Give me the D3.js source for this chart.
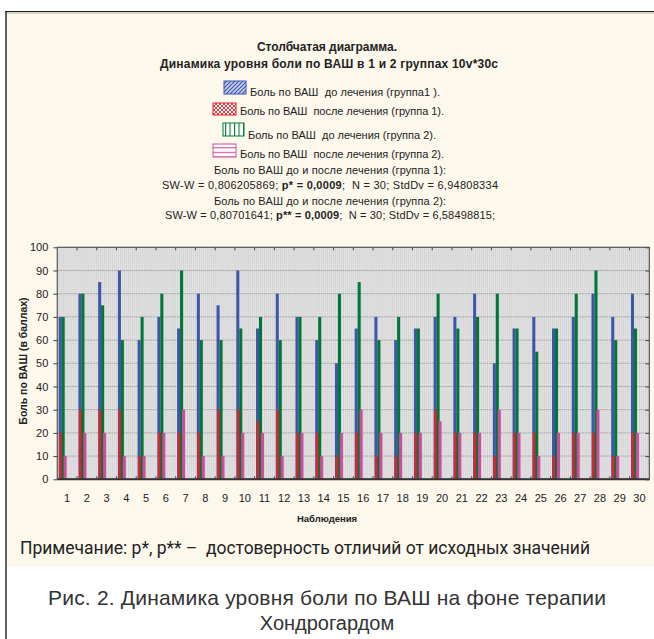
<!DOCTYPE html>
<html>
<head>
<meta charset="utf-8">
<script src="https://cdn.jsdelivr.net/npm/d3@7"></script>
<style>
  body { margin: 0; background: #fff; }
  svg { display: block; font-family: "Liberation Sans", Arial, sans-serif; }
</style>
</head>
<body>
<div id="chart"></div>
<script>
// ---------------------------------
// Data
// ---------------------------------
const observations = ["1","2","3","4","5","6","7","8","9","10","11","12","13","14","15",
                      "16","17","18","19","20","21","22","23","24","25","26","27","28","29","30"];
const group1Before = [70,80,85,90,60,70,65,80,75,90,65,80,70,60,50,65,70,60,65,70,70,80,50,65,70,65,70,80,70,80];
const group1After  = [20,30,30,30,10,20,20,20,30,30,25,30,20,20,10,20,10,10,20,30,20,20,10,20,20,10,20,20,10,20];
const group2Before = [70,80,75,60,70,80,90,60,60,65,70,60,70,70,80,85,60,70,65,80,65,70,80,65,55,65,80,90,60,65];
const group2After  = [10,20,20,10,10,20,30,10,10,20,20,10,20,10,20,30,20,20,20,25,20,20,30,20,10,20,20,30,10,20];
const yTicks = [0,10,20,30,40,50,60,70,80,90,100];

const seriesNames = [
  "Боль по ВАШ  до лечения (группа1 ).",
  "Боль по ВАШ  после лечения (группа 1).",
  "Боль по ВАШ  до лечения (группа 2).",
  "Боль по ВАШ  после лечения (группа 2)."
];

const W = 654, H = 639;
const pLeft = 57.3, pRight = 649.3, pTop = 247.3, pBottom = 479.3;

const svg = d3.select("#chart").append("svg")
  .attr("width", W).attr("height", H);

// patterns for legend swatches
const defs = svg.append("defs");
function hatch(id, color, bg, draw) {
  const p = defs.append("pattern").attr("id", id)
    .attr("patternUnits", "userSpaceOnUse").attr("width", 4).attr("height", 4);
  p.append("rect").attr("width", 4).attr("height", 4).attr("fill", bg);
  draw(p, color);
}
hatch("pBlue", "#3d55b0", "#c9d2f0", (p, c) => {
  p.append("path").attr("d", "M-1,5 L5,-1 M-1,1 L1,-1 M3,5 L5,3").attr("stroke", c).attr("stroke-width", 1.2);
});
hatch("pRed", "#e8202a", "#fff", (p, c) => {
  p.append("path").attr("d", "M-1,5 L5,-1 M-1,-1 L5,5").attr("stroke", c).attr("stroke-width", 0.9);
});
defs.append("pattern").attr("id", "pGreen").attr("patternUnits", "userSpaceOnUse")
  .attr("width", 4.5).attr("height", 4)
  .call(p => {
    p.append("rect").attr("width", 4.5).attr("height", 4).attr("fill", "#fff");
    p.append("line").attr("x1", 0.5).attr("x2", 0.5).attr("y1", 0).attr("y2", 4)
      .attr("stroke", "#007a3d").attr("stroke-width", 1.2);
  });
defs.append("pattern").attr("id", "pPink").attr("patternUnits", "userSpaceOnUse")
  .attr("width", 4).attr("height", 4.6)
  .call(p => {
    p.append("rect").attr("width", 4).attr("height", 4.6).attr("fill", "#fff");
    p.append("line").attr("x1", 0).attr("x2", 4).attr("y1", 0.5).attr("y2", 0.5)
      .attr("stroke", "#d14fa0").attr("stroke-width", 1.2);
  });

// page background + frame
svg.append("rect").attr("width", W).attr("height", H).attr("fill", "#fff");
svg.append("rect").attr("x", 6).attr("y", 12).attr("width", W).attr("height", 555)
  .attr("fill", "#fdf8ec");
svg.append("line").attr("x1", 5).attr("x2", W).attr("y1", 11.5).attr("y2", 11.5)
  .attr("stroke", "#222").attr("stroke-width", 1.2);
svg.append("line").attr("x1", 6).attr("x2", W).attr("y1", 13).attr("y2", 13)
  .attr("stroke", "#999").attr("stroke-width", 0.8);
svg.append("line").attr("x1", 6).attr("x2", 6).attr("y1", 11).attr("y2", H)
  .attr("stroke", "#222").attr("stroke-width", 1.4);

// title
svg.append("text").attr("x", 327).attr("y", 51).attr("text-anchor", "middle")
  .attr("font-size", 12).attr("font-weight", "bold").attr("fill", "#222")
  .attr("textLength", 140).attr("lengthAdjust", "spacing")
  .text("Столбчатая диаграмма.");
svg.append("text").attr("x", 329).attr("y", 67.5).attr("text-anchor", "middle")
  .attr("font-size", 12).attr("font-weight", "bold").attr("fill", "#222")
  .attr("textLength", 338).attr("lengthAdjust", "spacing")
  .text("Динамика уровня боли по ВАШ в 1 и 2 группах 10v*30c");

// legend
const legend = [
  {name: seriesNames[0], fill: "url(#pBlue)", stroke: "#3d55b0", x: 224, y: 81, w: 22, h: 13, ty: 95.5, tw: 190},
  {name: seriesNames[1], fill: "url(#pRed)", stroke: "#e8202a", x: 213, y: 103, w: 23, h: 12, ty: 115, tw: 204},
  {name: seriesNames[2], fill: "url(#pGreen)", stroke: "#007a3d", x: 223, y: 123, w: 21, h: 13, ty: 139, tw: 188},
  {name: seriesNames[3], fill: "url(#pPink)", stroke: "#d14fa0", x: 213, y: 144, w: 23, h: 13, ty: 158, tw: 204}
];
const lg = svg.append("g").selectAll("g").data(legend).enter().append("g");
lg.append("rect")
  .attr("x", d => d.x).attr("y", d => d.y).attr("width", d => d.w).attr("height", d => d.h)
  .attr("fill", d => d.fill).attr("stroke", d => d.stroke).attr("stroke-width", 1);
lg.append("text")
  .attr("x", d => d.x + d.w + 4).attr("y", d => d.ty)
  .attr("font-size", 11).attr("fill", "#222")
  .attr("xml:space", "preserve")
  .attr("textLength", d => d.tw).attr("lengthAdjust", "spacing")
  .text(d => d.name);

// statistics text
function statLine(yy, width, parts) {
  const t = svg.append("text").attr("x", 330).attr("y", yy).attr("text-anchor", "middle")
    .attr("font-size", 11).attr("fill", "#222").attr("xml:space", "preserve")
    .attr("textLength", width).attr("lengthAdjust", "spacing");
  parts.forEach(p => t.append("tspan").attr("font-weight", p[1] ? "bold" : null).text(p[0]));
}
statLine(174, 232, [["Боль по ВАШ до и после лечения (группа 1):"]]);
statLine(189, 336, [["SW-W = 0,806205869; "], ["p* = 0,0009", true], [";  N = 30; StdDv = 6,94808334"]]);
statLine(205, 232, [["Боль по ВАШ до и после лечения (группа 2):"]]);
statLine(219, 330, [["SW-W = 0,80701641; "], ["p** = 0,0009", true], [";  N = 30; StdDv = 6,58498815;"]]);

// scales
const x = d3.scaleBand().domain(observations).range([pLeft, pRight]).padding(0);
const y = d3.scaleLinear().domain([0, 100]).range([pBottom, pTop]);
const bw = x.bandwidth();

// plot background + grid
const plot = svg.append("g");
plot.append("rect").attr("x", pLeft).attr("y", pTop).attr("width", pRight - pLeft).attr("height", pBottom - pTop)
  .attr("fill", "#e4e4e4");
const vgrid = d3.range(pLeft + 2, pRight, bw / 10);
plot.append("g").selectAll("line").data(vgrid).enter().append("line")
  .attr("x1", d => d).attr("x2", d => d).attr("y1", pTop).attr("y2", pBottom)
  .attr("stroke", "#bdbdbd").attr("stroke-width", 0.8).attr("stroke-dasharray", "1,1");
plot.append("g").selectAll("line").data(yTicks.slice(1, -1)).enter().append("line")
  .attr("x1", pLeft).attr("x2", pRight).attr("y1", d => y(d)).attr("y2", d => y(d))
  .attr("stroke", "#959595").attr("stroke-width", 0.8).attr("stroke-dasharray", "2,1");

// bars
const barW = bw * 0.155;
const series = [
  {values: group1Before, color: "#3f55a8", off: 0.07},
  {values: group1After,  color: "#ee1c25", off: 0.10},
  {values: group2Before, color: "#00773a", off: 0.22},
  {values: group2After,  color: "#d04b9c", off: 0.32}
];
series.forEach(s => {
  plot.append("g").selectAll("rect").data(s.values).enter().append("rect")
    .attr("x", (d, i) => x(observations[i]) + bw * s.off)
    .attr("y", d => y(d))
    .attr("width", barW)
    .attr("height", d => y(0) - y(d))
    .attr("fill", s.color);
});

// frame of plot
plot.append("rect").attr("x", pLeft).attr("y", pTop).attr("width", pRight - pLeft).attr("height", pBottom - pTop)
  .attr("fill", "none").attr("stroke", "#555").attr("stroke-width", 1.2);
plot.append("line").attr("x1", pLeft).attr("x2", pRight).attr("y1", pBottom).attr("y2", pBottom)
  .attr("stroke", "#333").attr("stroke-width", 2);

// axes
const yAxis = d3.axisLeft(y).tickValues(yTicks).tickSize(4).tickPadding(5);
const gy = svg.append("g").attr("transform", `translate(${pLeft},0)`).call(yAxis);
gy.select(".domain").remove();
gy.selectAll("line").attr("stroke", "#444");
gy.selectAll("text").attr("font-size", 11).attr("fill", "#222").attr("font-family", "Liberation Sans, Arial");

const yRight = d3.axisLeft(y).tickValues(yTicks).tickSize(4).tickFormat("");
const gyr = svg.append("g").attr("transform", `translate(${pRight},0)`).call(yRight);
gyr.select(".domain").remove();
gyr.selectAll("line").attr("stroke", "#444");

const xAxis = d3.axisBottom(x).tickSize(0).tickPadding(15);
const gx = svg.append("g").attr("transform", `translate(0,${pBottom})`).call(xAxis);
gx.select(".domain").remove();
gx.selectAll("text").attr("font-size", 11).attr("fill", "#222").attr("font-family", "Liberation Sans, Arial");

// ticks at band edges, top and bottom
const edges = observations.slice(1).map(o => x(o));
svg.append("g").selectAll("line").data(edges).enter().append("line")
  .attr("x1", d => d).attr("x2", d => d).attr("y1", pTop).attr("y2", pTop + 3)
  .attr("stroke", "#444");
svg.append("g").selectAll("line").data(edges).enter().append("line")
  .attr("x1", d => d).attr("x2", d => d).attr("y1", pBottom - 3).attr("y2", pBottom)
  .attr("stroke", "#444");

// axis titles
svg.append("text").attr("transform", "translate(27,361) rotate(-90)")
  .attr("text-anchor", "middle").attr("font-size", 10.5).attr("font-weight", "bold").attr("fill", "#222")
  .text("Боль по ВАШ (в баллах)");
svg.append("text").attr("x", 327).attr("y", 522).attr("text-anchor", "middle")
  .attr("font-size", 9.5).attr("font-weight", "bold").attr("fill", "#222")
  .text("Наблюдения");

// note
svg.append("text").attr("x", 20).attr("y", 554).attr("font-size", 17.5)
  .attr("font-family", "'Liberation Sans Narrow', 'Roboto', sans-serif").attr("fill", "#222")
  .attr("xml:space", "preserve")
  .attr("textLength", 570).attr("lengthAdjust", "spacing")
  .text("Примечание: p*, p** –  достоверность отличий от исходных значений");

// caption
svg.append("text").attr("x", 327).attr("y", 605).attr("text-anchor", "middle")
  .attr("font-size", 21).attr("fill", "#333")
  .attr("textLength", 558).attr("lengthAdjust", "spacing")
  .text("Рис. 2. Динамика уровня боли по ВАШ на фоне терапии");
svg.append("text").attr("x", 327).attr("y", 630).attr("text-anchor", "middle")
  .attr("font-size", 20).attr("fill", "#333")
  .text("Хондрогардом");
</script>
</body>
</html>
